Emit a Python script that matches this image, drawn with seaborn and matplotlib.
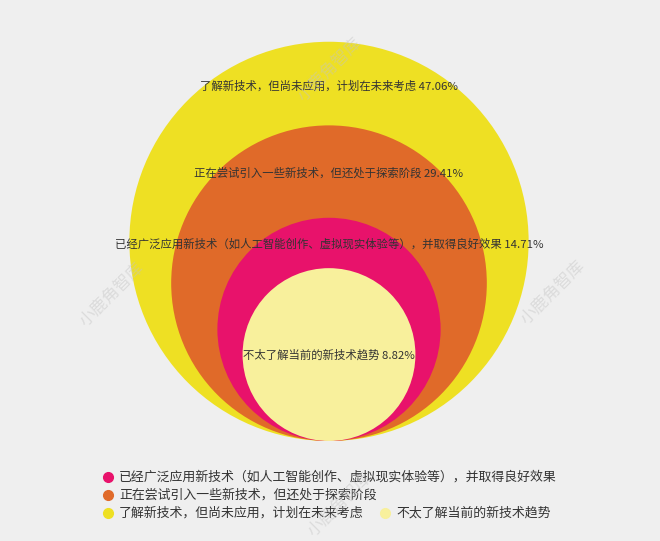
import numpy as np
import seaborn as sns
import matplotlib.pyplot as plt
from matplotlib.patches import Circle

# survey answers, biggest circle first
categories = [
    "了解新技术，但尚未应用，计划在未来考虑",
    "正在尝试引入一些新技术，但还处于探索阶段",
    "已经广泛应用新技术（如人工智能创作、虚拟现实体验等），并取得良好效果",
    "不太了解当前的新技术趋势",
]
values = [47.06, 29.41, 14.71, 8.82]
colors = ["#EEE023", "#E06A29", "#E8126B", "#F8F09C"]

# where the labels sit inside each circle (data units above the tangent point)
label_y = [12.2, 9.21, 6.77, 2.96]

# legend follows the original order
legend_order = [2, 1, 0, 3]
legend_pos = [(108, 477), (108, 495), (108, 513), (385, 513)]  # pixels

BG = "#EFEFEF"
TEXT = "#333333"

sns.set_theme(style="white", rc={"figure.facecolor": BG, "axes.facecolor": BG})
plt.rcParams["font.family"] = ["Noto Sans CJK SC", "DejaVu Sans"]

W, H = 660, 541
fig = plt.figure(figsize=(W / 100, H / 100), dpi=100)
ax = fig.add_axes([0, 0, 1, 1])

px = 29.1  # pixels per data unit
cx, base = 329, 441  # centre x and tangent point in pixels
ax.set_xlim(-cx / px, (W - cx) / px)
ax.set_ylim(-(H - base) / px, base / px)
ax.set_aspect("equal")
ax.axis("off")

radii = np.sqrt(values)
for r, c in zip(radii, colors):
    ax.add_patch(Circle((0, r), r, facecolor=c, edgecolor="none", zorder=1))

for cat, v, y in zip(categories, values, label_y):
    ax.text(0, y, f"{cat} {v:.2f}%", ha="center", va="center",
            fontsize=8.2, color=TEXT, zorder=3)

# watermarks
for wx, wy in [(330, 70), (112, 295), (553, 293), (340, 505)]:
    fig.text(wx / W, 1 - wy / H, "小鹿角智库", rotation=45, ha="center", va="center",
             fontsize=12, color="#C4C4C4", alpha=0.45, zorder=4)

for i, (lx, ly) in zip(legend_order, legend_pos):
    fig.add_artist(plt.Line2D([lx / W], [1 - ly / H], marker="o", markersize=7,
                              color=colors[i], linestyle="none"))
    fig.text((lx + 11) / W, 1 - ly / H, categories[i], ha="left", va="center",
             fontsize=9.3, color=TEXT)

fig.savefig("out.png", dpi=100, facecolor=BG)
